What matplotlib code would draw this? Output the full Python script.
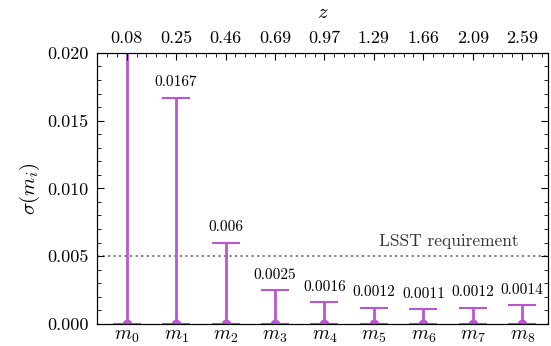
"""Photometric calibration error per magnitude bin."""

import matplotlib.pyplot as plt
import numpy as np
from matplotlib.ticker import MultipleLocator

plt.rcParams["font.family"] = "serif"
plt.rcParams["font.serif"] = ["cmr10", "DejaVu Serif"]
plt.rcParams["mathtext.fontset"] = "cm"
plt.rcParams["axes.formatter.use_mathtext"] = True

labels = [r"$m_{%d}$" % i for i in range(9)]
z_labels = ["0.08", "0.25", "0.46", "0.69", "0.97", "1.29", "1.66", "2.09", "2.59"]
sigma = [0.031, 0.0167, 0.006, 0.0025, 0.0016, 0.0012, 0.0011, 0.0012, 0.0014]
sigma_text = ["", "0.0167", "0.006", "0.0025", "0.0016", "0.0012", "0.0011", "0.0012", "0.0014"]
lsst_req = 0.005

color = "#BA55D3"
x = np.arange(len(labels))
ymax = 0.02

fig, ax = plt.subplots(figsize=(5.51, 3.46), dpi=100)
fig.subplots_adjust(left=0.176, right=0.9945, bottom=0.064, top=0.847)

zeros = np.zeros(len(sigma))
ax.errorbar(x, zeros, yerr=[zeros, sigma], fmt="o", color=color, ms=6,
            elinewidth=2, capsize=10, capthick=1.5, clip_on=True, zorder=2)
for xi, s, t in zip(x, sigma, sigma_text):
    if t and s < ymax:
        ax.annotate(t, (xi, s), xytext=(0, 6), textcoords="offset points",
                    ha="center", va="bottom", fontsize=11)

ax.axhline(lsst_req, color="gray", ls=":", lw=1.5, zorder=1)
ax.text(7.93, lsst_req + 0.0005, "LSST requirement", ha="right", va="bottom",
        fontsize=12.5, color="#333333")

ax.set_xlim(-0.6, 8.52)
ax.set_ylim(0, ymax)
ax.set_xticks(x)
ax.set_xticklabels(labels, fontsize=14)
ax.yaxis.set_major_locator(MultipleLocator(0.005))
ax.yaxis.set_minor_locator(MultipleLocator(0.001))
ax.yaxis.set_major_formatter(plt.FormatStrFormatter("%.3f"))
ax.tick_params(axis="y", which="both", direction="in", right=True, labelsize=13, pad=6)
ax.tick_params(axis="y", which="major", length=5)
ax.tick_params(axis="y", which="minor", length=3)
ax.tick_params(axis="x", which="major", direction="in", length=5, top=False, pad=2)
ax.set_ylabel(r"$\sigma(m_i)$", fontsize=15, labelpad=4)

top = ax.twiny()
top.set_xlim(ax.get_xlim())
top.set_xticks(x)
top.set_xticklabels(z_labels, fontsize=13)
top.xaxis.set_minor_locator(MultipleLocator(0.2))
top.tick_params(axis="x", which="both", direction="in", pad=5)
top.tick_params(axis="x", which="major", length=5)
top.tick_params(axis="x", which="minor", length=3)
top.set_xlabel(r"$z$", fontsize=15, labelpad=9)

fig.savefig("out.png", dpi=100)
plt.close(fig)
